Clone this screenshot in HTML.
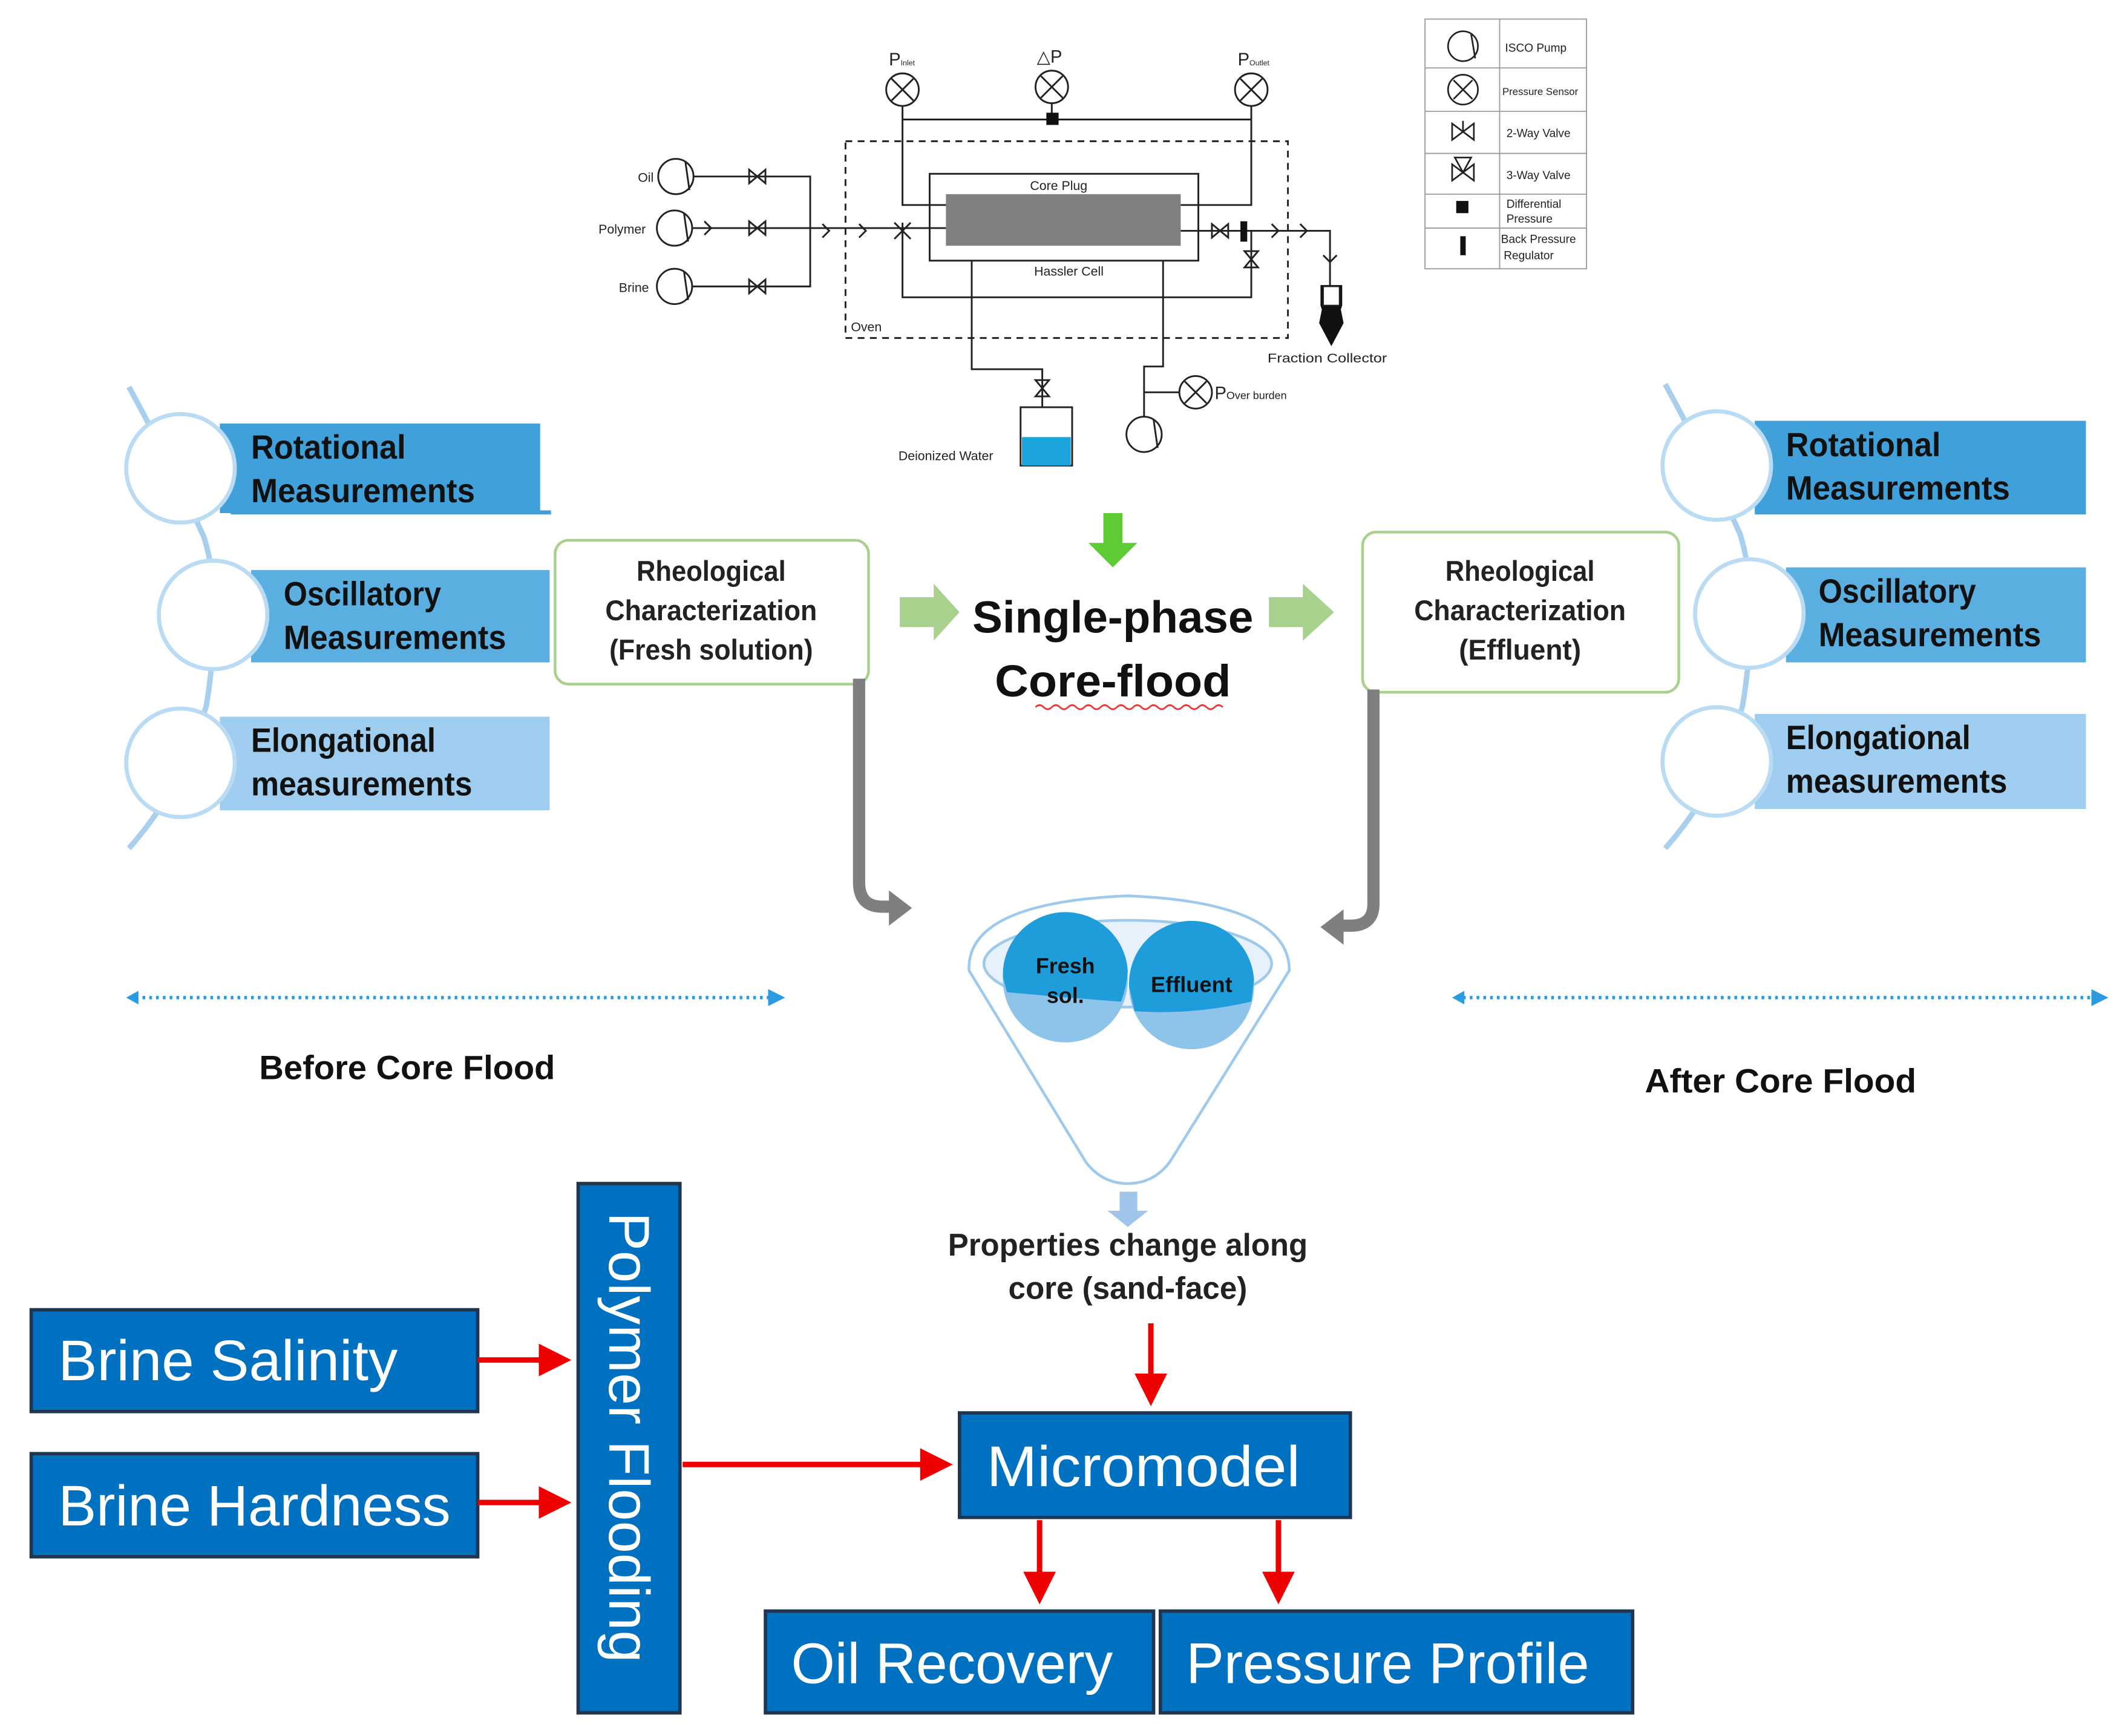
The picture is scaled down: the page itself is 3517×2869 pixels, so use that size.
<!DOCTYPE html>
<html><head><meta charset="utf-8"><style>
html,body{margin:0;padding:0;background:#fff;}
svg{display:block;}
text{font-family:"Liberation Sans",sans-serif;}
</style></head><body>
<svg width="3517" height="2869" viewBox="0 0 1568 1279" xmlns="http://www.w3.org/2000/svg">
<defs>
<marker id="ar" markerWidth="6" markerHeight="6" refX="5" refY="3" orient="auto" markerUnits="strokeWidth"><path d="M0,0 L6,3 L0,6 z" fill="#e00"/></marker>
<marker id="ab" markerWidth="5" markerHeight="5" refX="4" refY="2.5" orient="auto" markerUnits="strokeWidth"><path d="M0,0 L5,2.5 L0,5 z" fill="#2a9be0"/></marker>
</defs>
<rect width="1568" height="1279" fill="#fff"/>

<!-- ===== Schematic ===== -->
<g stroke="#222" stroke-width="1.3" fill="none">
<rect x="623" y="104" width="326" height="145" stroke-dasharray="5,4"/>
<rect x="685" y="128" width="198" height="64" fill="#fff"/>
<circle cx="498" cy="130" r="13" fill="#fff"/><line x1="505" y1="119" x2="508" y2="140"/>
<circle cx="497" cy="168" r="13" fill="#fff"/><line x1="504" y1="157" x2="507" y2="178"/>
<circle cx="497" cy="211" r="13" fill="#fff"/><line x1="504" y1="200" x2="507" y2="221"/>
<path d="M511 130 H597 V211 H510 M510 168 H697"/>
<circle cx="665" cy="66" r="12"/><path d="M657 58 L673 74 M673 58 L657 74"/>
<circle cx="775" cy="64" r="12"/><path d="M767 56 L783 72 M783 56 L767 72"/>
<circle cx="922" cy="66" r="12"/><path d="M914 58 L930 74 M930 58 L914 74"/>
<path d="M665 78 V151 H697 M665 88 H922 M775 76 V88 M922 78 V151 H870"/>
<path d="M665 170 V219 H922 V170 M870 170 H980 V215"/>
<path d="M716 192 V272 H768 V300 M857 192 V270 H843 V307 M843 289 H869"/>
<circle cx="881" cy="289" r="12"/><path d="M873 281 L889 297 M889 281 L873 297"/>
<circle cx="843" cy="320" r="13" fill="#fff"/><line x1="850" y1="309" x2="853" y2="330"/>
<rect x="752" y="300" width="38" height="43" fill="#fff"/>
<path d="M552 125 V135 L564 125 V135 Z M552 163 V173 L564 163 V173 Z M552 206 V216 L564 206 V216 Z"/>
<path d="M893 165 V175 L905 165 V175 Z M917 185 H927 L917 197 H927 Z M763 280 H773 L763 292 H773 Z"/>
<path d="M659 164 L671 176 M671 164 L659 176 M665 164 V176"/>
<path d="M606 165 L611 170 L606 175 M633 165 L638 170 L633 175 M937 165 L942 170 L937 175 M958 165 L963 170 L958 175 M975 188 L980 193 L985 188 M519 163 L524 168 L519 173"/>
</g>
<rect x="697" y="143" width="173" height="38" fill="#808080"/>
<rect x="771" y="83" width="9" height="9" fill="#111"/>
<rect x="914" y="163" width="5" height="15" fill="#111"/>
<rect x="753" y="322" width="36" height="21" fill="#1aa3dc"/>
<path d="M973 210 H989 V225 L988 228 L990 238 L981 255 L972 238 L974 228 L973 225 Z" fill="#111"/>
<rect x="975" y="211" width="12" height="14" fill="#fff" stroke="#222"/>
<g font-size="9.5" fill="#222">
<text x="470" y="134">Oil</text><text x="441" y="172">Polymer</text><text x="456" y="215">Brine</text>
<text x="759" y="140">Core Plug</text><text x="762" y="203">Hassler Cell</text>
<text x="627" y="244">Oven</text><text x="934" y="267" textLength="88" lengthAdjust="spacingAndGlyphs">Fraction Collector</text>
<text x="662" y="339">Deionized Water</text>
<text x="655" y="48" font-size="13">P<tspan font-size="5.5">Inlet</tspan></text>
<text x="764" y="46" font-size="13">△P</text>
<text x="912" y="48" font-size="13">P<tspan font-size="5.5">Outlet</tspan></text>
<text x="895" y="294" font-size="13">P<tspan font-size="8">Over burden</tspan></text>
</g>
<g stroke="#999" stroke-width="0.8" fill="none">
<rect x="1050" y="14" width="119" height="184"/>
<path d="M1105 14 V198 M1050 50 H1169 M1050 82 H1169 M1050 113 H1169 M1050 143 H1169 M1050 168 H1169"/>
</g>
<g stroke="#222" stroke-width="1.2" fill="none">
<circle cx="1078" cy="34" r="11"/><line x1="1084" y1="25" x2="1087" y2="43"/>
<circle cx="1078" cy="66" r="11"/><path d="M1071 59 L1085 73 M1085 59 L1071 73"/>
<path d="M1070 91 V103 L1086 91 V103 Z M1078 89 V97"/>
<path d="M1070 121 V133 L1086 121 V133 Z M1072 116 L1078 127 L1084 116 Z"/>
</g>
<rect x="1073" y="148" width="9" height="9" fill="#111"/>
<rect x="1076" y="174" width="4" height="14" fill="#111"/>
<g font-size="8.5" fill="#222">
<text x="1109" y="38">ISCO Pump</text><text x="1107" y="70" font-size="7.5">Pressure Sensor</text>
<text x="1110" y="101">2-Way Valve</text><text x="1110" y="132">3-Way Valve</text>
<text x="1110" y="153">Differential</text><text x="1110" y="164">Pressure</text>
<text x="1106" y="179">Back Pressure</text><text x="1108" y="191">Regulator</text>
</g>

<!-- ===== Left measurements ===== -->
<path d="M95 285 Q125 340 150 395 Q165 440 152 520 Q135 580 95 625" stroke="#a8d0ee" stroke-width="4" fill="none"/>
<rect x="162" y="312" width="236" height="66" fill="#3fa0da"/><rect x="170" y="376" width="236" height="3" fill="#3fa0da"/>
<rect x="185" y="420" width="220" height="68" fill="#5aaee0"/>
<rect x="162" y="528" width="243" height="69" fill="#9fcdef"/>
<g fill="#fff" stroke="#b9dbf3" stroke-width="3">
<circle cx="133" cy="345" r="40"/><circle cx="157" cy="453" r="40"/><circle cx="133" cy="562" r="40"/></g>
<g font-size="25" font-weight="bold" fill="#111" lengthAdjust="spacingAndGlyphs">
<text x="185" y="338" textLength="114" lengthAdjust="spacingAndGlyphs">Rotational</text><text x="185" y="370" textLength="165" lengthAdjust="spacingAndGlyphs">Measurements</text>
<text x="209" y="446" textLength="116" lengthAdjust="spacingAndGlyphs">Oscillatory</text><text x="209" y="478" textLength="164" lengthAdjust="spacingAndGlyphs">Measurements</text>
<text x="185" y="554" textLength="136" lengthAdjust="spacingAndGlyphs">Elongational</text><text x="185" y="586" textLength="163" lengthAdjust="spacingAndGlyphs">measurements</text></g>

<!-- ===== Right measurements ===== -->
<path d="M1227 283 Q1257 338 1282 393 Q1297 440 1284 520 Q1267 580 1227 625" stroke="#a8d0ee" stroke-width="4" fill="none"/>
<rect x="1293" y="310" width="244" height="69" fill="#3fa0da"/>
<rect x="1316" y="418" width="221" height="70" fill="#5aaee0"/>
<rect x="1293" y="526" width="244" height="70" fill="#9fcdef"/>
<g fill="#fff" stroke="#b9dbf3" stroke-width="3">
<circle cx="1265" cy="343" r="40"/><circle cx="1289" cy="452" r="40"/><circle cx="1265" cy="561" r="40"/></g>
<g font-size="25" font-weight="bold" fill="#111">
<text x="1316" y="336" textLength="114" lengthAdjust="spacingAndGlyphs">Rotational</text><text x="1316" y="368" textLength="165" lengthAdjust="spacingAndGlyphs">Measurements</text>
<text x="1340" y="444" textLength="116" lengthAdjust="spacingAndGlyphs">Oscillatory</text><text x="1340" y="476" textLength="164" lengthAdjust="spacingAndGlyphs">Measurements</text>
<text x="1316" y="552" textLength="136" lengthAdjust="spacingAndGlyphs">Elongational</text><text x="1316" y="584" textLength="163" lengthAdjust="spacingAndGlyphs">measurements</text></g>

<rect x="409" y="398" width="231" height="106" rx="10" fill="#fff" stroke="#a9d18e" stroke-width="2"/>
<rect x="1004" y="392" width="233" height="118" rx="10" fill="#fff" stroke="#a9d18e" stroke-width="2"/>
<g font-size="21" font-weight="bold" fill="#222" text-anchor="middle">
<text x="524" y="428" textLength="110" lengthAdjust="spacingAndGlyphs">Rheological</text><text x="524" y="457" textLength="156" lengthAdjust="spacingAndGlyphs">Characterization</text><text x="524" y="486" textLength="150" lengthAdjust="spacingAndGlyphs">(Fresh solution)</text>
<text x="1120" y="428" textLength="110" lengthAdjust="spacingAndGlyphs">Rheological</text><text x="1120" y="457" textLength="156" lengthAdjust="spacingAndGlyphs">Characterization</text><text x="1120" y="486" textLength="90" lengthAdjust="spacingAndGlyphs">(Effluent)</text></g>

<path d="M663 440 H688 V430 L707 451 L688 472 V462 H663 Z" fill="#a9d18e"/>
<path d="M935 440 H960 V430 L983 451 L960 472 V462 H935 Z" fill="#a9d18e"/>
<path d="M813 378 H827 V400 H838 L820 418 L802 400 H813 Z" fill="#5ecb35"/>
<g font-size="33" font-weight="bold" fill="#111" text-anchor="middle">
<text x="820" y="466" textLength="207" lengthAdjust="spacingAndGlyphs">Single-phase</text><text x="820" y="513" textLength="174" lengthAdjust="spacingAndGlyphs">Core-flood</text></g>
<path d="M763 521 q3 -3 6 0 t6 0 t6 0 t6 0 t6 0 t6 0 t6 0 t6 0 t6 0 t6 0 t6 0 t6 0 t6 0 t6 0 t6 0 t6 0 t6 0 t6 0 t6 0 t6 0 t6 0 t6 0 t6 0" stroke="#e33" stroke-width="1.2" fill="none"/>

<path d="M633 500 V650 Q633 668 650 668 H658" stroke="#7f7f7f" stroke-width="9" fill="none"/>
<path d="M655 656 L672 669 L655 682 Z" fill="#7f7f7f"/>
<path d="M1012 508 V666 Q1012 682 995 682 H988" stroke="#7f7f7f" stroke-width="9" fill="none"/>
<path d="M990 670 L973 683 L990 696 Z" fill="#7f7f7f"/>

<path d="M714 715 Q712 665 831 660 Q950 665 950 715 L862 856 Q850 872 831 872 Q812 872 800 856 Z" fill="#fff" stroke="#9cc9ec" stroke-width="2"/>
<ellipse cx="831" cy="710" rx="106" ry="32" fill="#e6f1fb" stroke="#9cc9ec" stroke-width="2"/>
<circle cx="785" cy="722" r="46" fill="#8ec3ea"/>
<circle cx="878" cy="727" r="46" fill="#8ec3ea"/>
<path d="M739 720 A46 46 0 0 1 831 716 Q830 728 826 738 Q785 735 742 731 Z" fill="#1f9ddb"/>
<path d="M832 727 A46 46 0 0 1 924 722 L922 738 Q878 748 836 745 Z" fill="#1f9ddb"/>
<g font-size="16" font-weight="bold" fill="#111" text-anchor="middle">
<text x="785" y="717">Fresh</text><text x="785" y="739">sol.</text><text x="878" y="731" textLength="60" lengthAdjust="spacingAndGlyphs">Effluent</text></g>
<path d="M825 878 H838 V892 H846 L831 904 L816 892 H825 Z" fill="#9fc5ea"/>
<g font-size="23" font-weight="bold" fill="#222" text-anchor="middle">
<text x="831" y="925" textLength="265" lengthAdjust="spacingAndGlyphs">Properties change along</text><text x="831" y="957" textLength="176" lengthAdjust="spacingAndGlyphs">core (sand-face)</text></g>

<line x1="100" y1="735" x2="576" y2="735" stroke="#2a9be0" stroke-width="2.5" stroke-dasharray="2,3" marker-end="url(#ab)"/>
<path d="M102 730 L93 735 L102 740 Z" fill="#2a9be0"/>
<line x1="1078" y1="735" x2="1551" y2="735" stroke="#2a9be0" stroke-width="2.5" stroke-dasharray="2,3" marker-end="url(#ab)"/>
<path d="M1079 730 L1070 735 L1079 740 Z" fill="#2a9be0"/>
<g font-size="25" font-weight="bold" fill="#111" text-anchor="middle">
<text x="300" y="795" textLength="218" lengthAdjust="spacingAndGlyphs">Before Core Flood</text><text x="1312" y="805" textLength="200" lengthAdjust="spacingAndGlyphs">After Core Flood</text></g>

<g fill="#0070c0" stroke="#1f3550" stroke-width="2.5">
<rect x="23" y="965" width="329" height="75"/><rect x="23" y="1071" width="329" height="76"/>
<rect x="426" y="872" width="75" height="390"/>
<rect x="707" y="1041" width="288" height="77"/>
<rect x="564" y="1187" width="286" height="75"/><rect x="855" y="1187" width="348" height="75"/></g>
<g font-size="42" fill="#fff">
<text x="43" y="1017" textLength="250" lengthAdjust="spacingAndGlyphs">Brine Salinity</text><text x="43" y="1124" textLength="289" lengthAdjust="spacingAndGlyphs">Brine Hardness</text>
<text x="727" y="1095" textLength="231" lengthAdjust="spacingAndGlyphs">Micromodel</text>
<text x="583" y="1240" textLength="237" lengthAdjust="spacingAndGlyphs">Oil Recovery</text><text x="874" y="1240" textLength="297" lengthAdjust="spacingAndGlyphs">Pressure Profile</text>
<text transform="translate(449,893) rotate(90)" textLength="332" lengthAdjust="spacingAndGlyphs">Polymer Flooding</text></g>

<g stroke="#e00" stroke-width="4" fill="none" marker-end="url(#ar)">
<line x1="352" y1="1002" x2="417" y2="1002"/><line x1="352" y1="1107" x2="417" y2="1107"/>
<line x1="503" y1="1079" x2="698" y2="1079"/>
<line x1="848" y1="975" x2="848" y2="1032"/>
<line x1="766" y1="1120" x2="766" y2="1178"/><line x1="942" y1="1120" x2="942" y2="1178"/></g>
</svg>
</body></html>
